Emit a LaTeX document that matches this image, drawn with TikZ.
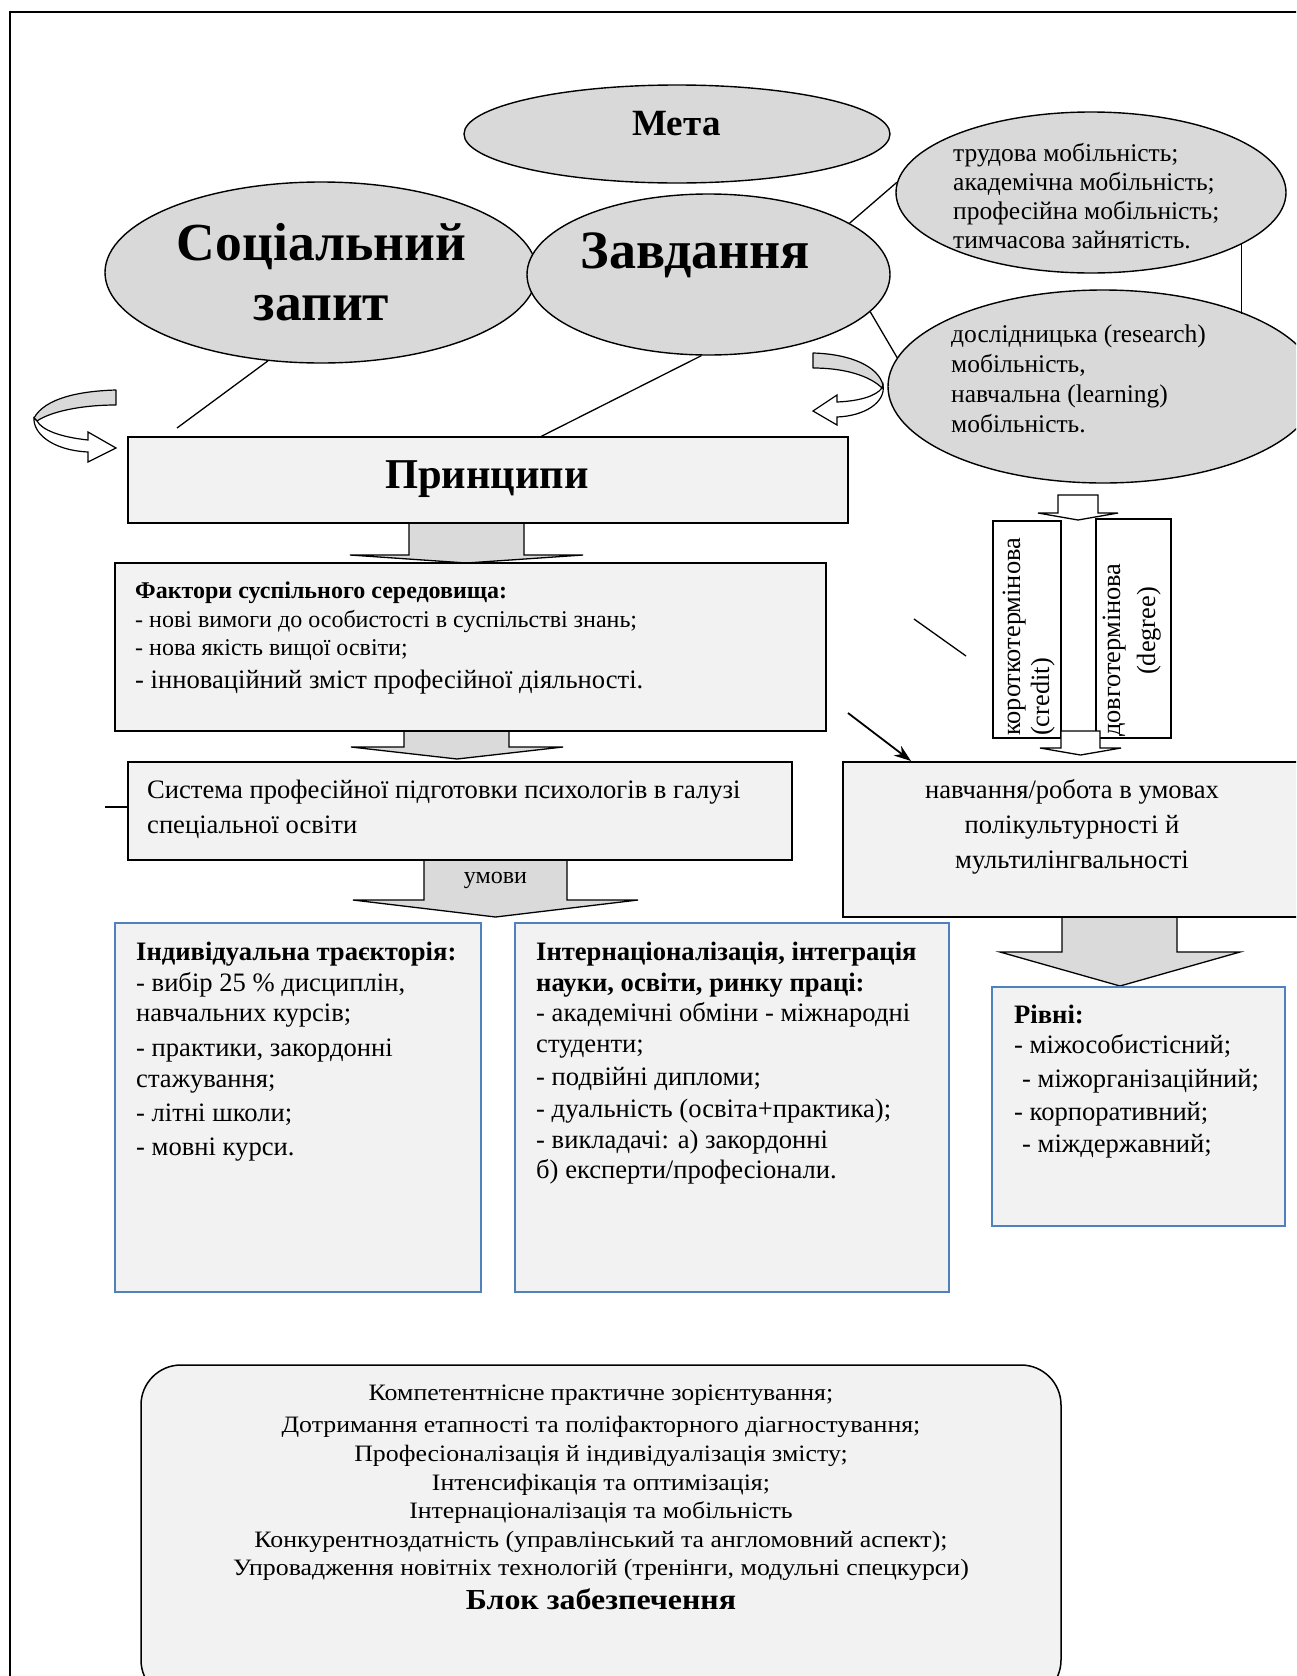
\documentclass[tikz,border=0pt]{standalone}
\usepackage{fontspec}
\setmainfont{Liberation Serif}
\newfontfamily\camb[FakeStretch=1.1]{Liberation Serif}
\usetikzlibrary{shapes.geometric,arrows.meta,calc}
\definecolor{ellgrey}{HTML}{D9D9D9}
\definecolor{boxgrey}{HTML}{F2F2F2}
\definecolor{arrgrey}{HTML}{DADADA}
\definecolor{boxblue}{HTML}{4F81BD}
\begin{document}
\begin{tikzpicture}[x=1pt,y=-1pt,
  ell/.style={ellipse, draw, line width=1.4pt, fill=ellgrey, inner sep=0pt},
  box/.style={rectangle, draw, line width=2pt, fill=boxgrey, inner sep=0pt},
  bbox/.style={rectangle, draw=boxblue, line width=2pt, fill=boxgrey, inner sep=0pt},
  wbox/.style={rectangle, draw, line width=1.5pt, fill=white, inner sep=0pt},
  barrow/.style={draw, line width=1.3pt, fill=arrgrey, line join=miter},
  warrow/.style={draw, line width=1.3pt, fill=white, line join=miter},
  conn/.style={line width=1.3pt},
  body/.style={inner sep=0pt, anchor=base west, font=\fontsize{26.6}{30}\selectfont},
  bodyb/.style={inner sep=0pt, anchor=base west, font=\bfseries\fontsize{26.6}{30}\selectfont},
  ellt/.style={inner sep=0pt, anchor=base west, font=\fontsize{25.5}{29}\selectfont},
  fakt/.style={inner sep=0pt, anchor=base west, font=\fontsize{24}{27}\selectfont},
  faktb/.style={inner sep=0pt, anchor=base west, font=\bfseries\fontsize{24}{27}\selectfont},
  cent/.style={inner sep=0pt, anchor=base, font=\fontsize{26.6}{30}\selectfont},
  zab/.style={inner sep=0pt, anchor=base, font=\camb\fontsize{23.5}{28}\selectfont},
  rt/.style={inner sep=0pt, rotate=90, font=\fontsize{26.4}{30}\selectfont},
  big/.style={inner sep=0pt, anchor=base, font=\bfseries\fontsize{53.5}{60}\selectfont}
]
\useasboundingbox (0,0) rectangle (1296,1676);
\clip (0,0) rectangle (1296,1676);
\fill[white] (0,0) rectangle (1296,1676);

% outer frame
\draw[line width=2pt] (10,1700) -- (10,12) -- (1310,12);

% ellipses
\node[ell, minimum width=432pt, minimum height=181pt] (soc) at (321,272.5) {};
\node[ell, minimum width=426pt, minimum height=98pt] (meta) at (677,134) {};
\node[ell, minimum width=363pt, minimum height=161pt] (zav) at (708.5,274.5) {};
\node[ell, minimum width=390pt, minimum height=161pt] (tr) at (1091,192.5) {};
\node[ell, minimum width=430pt, minimum height=193pt] (lr) at (1103,386.5) {};

% ellipse texts
\node[big] (soct1) at (321.5,260) {Соціальний};
\node[big] (soct2) at (321.5,320) {запит};
\node[big, font=\bfseries\fontsize{54}{60}\selectfont] (zavt) at (695.5,268) {Завдання};
\node[big, font=\bfseries\fontsize{37}{42}\selectfont] (metat) at (676.5,135) {Мета};

\node[ellt] (tr1) at (953,161) {трудова мобільність;};
\node[ellt] (tr2) at (953,190) {академічна мобільність;};
\node[ellt] (tr3) at (953,219) {професійна мобільність;};
\node[ellt] (tr4) at (953,248) {тимчасова зайнятість.};

\node[ellt] (lr1) at (951,342) {дослідницька (research)};
\node[ellt] (lr2) at (951,372) {мобільність,};
\node[ellt] (lr3) at (951,402) {навчальна (learning)};
\node[ellt] (lr4) at (951,432) {мобільність.};

% connectors among ellipses
\coordinate (c1) at (177,428);
\coordinate (c2) at (540,437);
\draw[conn] (soc.239) -- (c1);
\draw[conn] (zav.265) -- (c2);
\draw[conn] (zav.20) -- (tr.177);
\draw[conn] (zav.347) -- (lr.172);
\draw[conn] (tr.341.6) -- (tr.341.6 |- lr.27.7);

% curved arrows
\draw[line width=1.2pt, fill=ellgrey, line join=round]
  (116,390) .. controls (80,391) and (45,398) .. (34,418) -- (37,421)
  .. controls (50,412) and (80,405) .. (116,405) -- cycle;
\draw[line width=1.2pt, fill=white, line join=miter]
  (34,418) .. controls (33,432) and (50,450) .. (88,452) -- (88,462) -- (116,448)
  -- (88,432) -- (88,440) .. controls (60,437) and (42,430) .. (37,421) -- cycle;

\draw[line width=1.2pt, fill=ellgrey, line join=round]
  (813,353) .. controls (850,354) and (878,366) .. (883,385) -- (882,388)
  .. controls (870,376) and (845,368) .. (813,368) -- cycle;
\draw[line width=1.2pt, fill=white, line join=miter]
  (883,385) .. controls (886,402) and (865,416) .. (837,417) -- (837,425) -- (813,411)
  -- (837,395) -- (837,402) .. controls (860,401) and (876,396) .. (882,388) -- cycle;

% block arrows
\draw[barrow] (409,523) -- (409,555) -- (350,555) -- (466.5,563) -- (583,555) -- (524,555) -- (524,523);
\draw[barrow] (404,731) -- (404,747) -- (351,747) -- (457,759) -- (563,747) -- (509,747) -- (509,731);
\draw[barrow] (424,860) -- (424,900) -- (353,900) -- (495.5,917) -- (638,900) -- (567,900) -- (567,860);
\draw[barrow] (1062,917) -- (1062,952) -- (1000,952) -- (1120,986) -- (1240,952) -- (1177,952) -- (1177,917);

% boxes
\node[box, minimum width=720pt, minimum height=86pt] (prin) at (488,480) {};
\node[box, minimum width=711pt, minimum height=168pt] (fakt) at (470.5,647) {};
\node[box, minimum width=664pt, minimum height=98pt] (sys) at (460,811) {};
\node[bbox, minimum width=366pt, minimum height=369pt] (ind) at (298,1107.5) {};
\node[bbox, minimum width=434pt, minimum height=369pt] (intl) at (732,1107.5) {};
\node[box, minimum width=458pt, minimum height=155pt] (nav) at (1072,839.5) {};
\node[bbox, minimum width=293pt, minimum height=239pt] (riv) at (1138.5,1106.5) {};
\node[wbox, minimum width=68pt, minimum height=217pt] (short) at (1027,629.5) {};
\node[wbox, minimum width=75pt, minimum height=219pt] (long) at (1133.5,628.5) {};
\node[draw, line width=1.5pt, fill=boxgrey, rounded corners=40pt, minimum width=920pt, minimum height=335pt, inner sep=0pt] (zab) at (601,1532.5) {};

% small white arrows
\draw[warrow] (1058,495) -- (1058,513) -- (1038,513) -- (1078,520) -- (1118,513) -- (1098,513) -- (1098,495) -- cycle;
\draw[warrow] (1061,731) -- (1061,748) -- (1040,748) -- (1080.5,755) -- (1121,748) -- (1100,748) -- (1100,731) -- cycle;

% other lines
\coordinate (s0) at (105,807);
\draw[line width=2.5pt] (s0) -- (s0 -| sys.west);
\coordinate (d1) at (914,619);
\coordinate (d2) at (966,656);
\draw[conn] (d1) -- (d2);
\coordinate (a0) at (848,713);
\coordinate (a1) at ($(nav.north west)+(69,0)$);
\draw[line width=1.8pt, -{Stealth[length=17pt,width=12pt]}] (a0) -- (a1);

% box texts
\node[big, font=\bfseries\fontsize{42.5}{48}\selectfont] (print) at (487,488) {Принципи};

\node[faktb] (f1) at (135,598) {Фактори суспільного середовища:};
\node[fakt] (f2) at (135,627) {- нові вимоги до особистості в суспільстві знань;};
\node[fakt] (f3) at (135,655) {- нова якість вищої освіти;};
\node[body] (f4) at (135,688) {- інноваційний зміст професійної діяльності.};

\node[body] (s1) at (147,798) {Система професійної підготовки психологів в галузі};
\node[body] (s2) at (147,833) {спеціальної освіти};

\node[cent, font=\fontsize{24}{28}\selectfont] (um) at (495.5,883) {умови};

\node[bodyb] (i1) at (136,960) {Індивідуальна траєкторія:};
\node[body] (i2) at (136,991) {- вибір 25 \% дисциплін,};
\node[body] (i3) at (136,1021) {навчальних курсів;};
\node[body] (i4) at (136,1056) {- практики, закордонні};
\node[body] (i5) at (136,1087) {стажування;};
\node[body] (i6) at (136,1121) {- літні школи;};
\node[body] (i7) at (136,1155) {- мовні курси.};

\node[bodyb] (n1) at (536,960) {Інтернаціоналізація, інтеграція};
\node[bodyb] (n2) at (536,991) {науки, освіти, ринку праці:};
\node[body] (n3) at (536,1021) {- академічні обміни - міжнародні};
\node[body] (n4) at (536,1052) {студенти;};
\node[body] (n5) at (536,1085) {- подвійні дипломи;};
\node[body] (n6) at (536,1117) {- дуальність (освіта+практика);};
\node[body] (n7) at (536,1148) {- викладачі: а) закордонні};
\node[body] (n8) at (536,1178) {б) експерти/професіонали.};

\node[cent] (v1) at (1072,798) {навчання/робота в умовах};
\node[cent] (v2) at (1072,833) {полікультурності й};
\node[cent] (v3) at (1072,868) {мультилінгвальності};

\node[bodyb] (r1) at (1014,1023) {Рівні:};
\node[body] (r2) at (1014,1053) {- міжособистісний;};
\node[body] (r3) at (1022,1087) {- міжорганізаційний;};
\node[body] (r4) at (1014,1120) {- корпоративний;};
\node[body] (r5) at (1022,1152) {- міждержавний;};

\node[rt, anchor=base west] (k1) at (1020,736) {короткотермінова};
\node[rt, anchor=base west] (k2) at (1049,736) {(credit)};
\node[rt, anchor=base west] (g1) at (1120,737) {довготермінова};
\node[rt, anchor=base] (g2) at (1155,631) {(degree)};

\node[zab] (z1) at (601,1400) {Компетентнісне практичне зорієнтування;};
\node[zab] (z2) at (601,1432) {Дотримання етапності та поліфакторного діагностування;};
\node[zab] (z3) at (601,1461) {Професіоналізація й індивідуалізація змісту;};
\node[zab] (z4) at (601,1490) {Інтенсифікація та оптимізація;};
\node[zab] (z5) at (601,1518) {Інтернаціоналізація та мобільність};
\node[zab] (z6) at (601,1547) {Конкурентноздатність (управлінський та англомовний аспект);};
\node[zab] (z7) at (601,1575) {Упровадження новітніх технологій (тренінги, модульні спецкурси)};
\node[zab, font=\camb\bfseries\fontsize{29}{33}\selectfont] (z8) at (601,1609) {Блок забезпечення};
\end{tikzpicture}
\end{document}
